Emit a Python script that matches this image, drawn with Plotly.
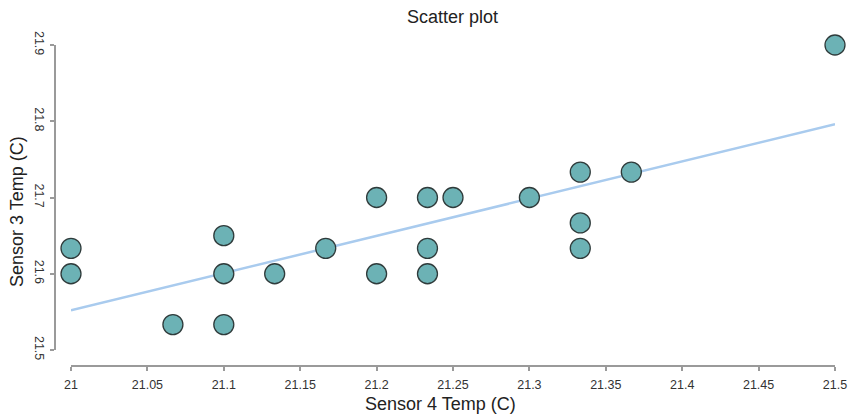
import numpy as np
import plotly.graph_objects as go

sensor4 = [21.0, 21.0, 21.0667, 21.1, 21.1, 21.1, 21.1333, 21.1667, 21.2, 21.2,
           21.2333, 21.2333, 21.2333, 21.25, 21.3, 21.3333, 21.3333, 21.3333, 21.3667, 21.5]
sensor3 = [21.6333, 21.6, 21.5333, 21.65, 21.6, 21.5333, 21.6, 21.6333, 21.7, 21.6,
           21.7, 21.6333, 21.6, 21.7, 21.7, 21.7333, 21.6667, 21.6333, 21.7333, 21.9]
x_ticks = [21, 21.05, 21.1, 21.15, 21.2, 21.25, 21.3, 21.35, 21.4, 21.45, 21.5]
x_tick_labels = ["21", "21.05", "21.1", "21.15", "21.2", "21.25", "21.3", "21.35", "21.4", "21.45", "21.5"]
y_ticks = [21.5, 21.6, 21.7, 21.8, 21.9]
y_tick_labels = ["21.5", "21.6", "21.7", "21.8", "21.9"]

xs = np.array(sensor4)
ys = np.array(sensor3)
slope, intercept = np.polyfit(xs, ys, 1)
fit_x = [xs.min(), xs.max()]
fit_y = [slope * v + intercept for v in fit_x]

W, H = 848, 417
ml, mr, mt, mb = 55, 13, 45, 51
pw = W - ml - mr
ph = H - mt - mb
xdom0 = 16 / pw
ydom0 = 16 / ph


def px_x(p):
    return (p - ml) / pw


def px_y(p):
    return (H - mb - p) / ph


fig = go.Figure()
fig.add_trace(go.Scatter(
    x=fit_x, y=fit_y, mode="lines",
    line=dict(color="#a9cbee", width=2.5),
    hoverinfo="skip", showlegend=False))
fig.add_trace(go.Scatter(
    x=sensor4, y=sensor3, mode="markers",
    marker=dict(size=20, color="#6cb2b5", line=dict(color="#2f3b3b", width=1.3)),
    cliponaxis=False, showlegend=False))

axis_font = dict(family="Liberation Sans, Arial, sans-serif", size=12.5, color="#333333")
title_font = dict(family="Liberation Sans, Arial, sans-serif", size=18, color="#222222")
fig.update_layout(
    width=W, height=H,
    margin=dict(l=ml, r=mr, t=mt, b=mb, autoexpand=False),
    paper_bgcolor="white", plot_bgcolor="white",
    font=dict(family="Liberation Sans, Arial, sans-serif", color="#222222"),
    title=dict(text="Scatter plot", x=(452.5) / W, xanchor="center", xref="container",
               y=1 - 17 / H, yanchor="middle", yref="container",
               font=title_font),
    xaxis=dict(
        domain=[xdom0, 1], range=[21, 21.5], anchor="free", position=0,
        tickmode="array", tickvals=x_ticks, ticktext=x_tick_labels,
        showgrid=False, zeroline=False, showline=True, linecolor="#9a9a9a", linewidth=1.5,
        ticks="outside", ticklen=4, tickcolor="#9a9a9a", tickwidth=1.5,
        ticklabelstandoff=3,
        tickfont=axis_font, automargin=False,
    ),
    yaxis=dict(
        domain=[ydom0, 1], range=[21.5, 21.9], anchor="free", position=0,
        tickmode="array", tickvals=y_ticks, ticktext=y_tick_labels,
        tickangle=90,
        showgrid=False, zeroline=False, showline=True, linecolor="#9a9a9a", linewidth=1.5,
        ticks="outside", ticklen=4, tickcolor="#9a9a9a", tickwidth=1.5,
        tickfont=axis_font, automargin=False,
    ),
    annotations=[
        dict(text="Sensor 4 Temp (C)", xref="paper", yref="paper",
             x=px_x(440), y=px_y(404), xanchor="center", yanchor="middle",
             showarrow=False, font=title_font),
        dict(text="Sensor 3 Temp (C)", xref="paper", yref="paper",
             x=px_x(17), y=px_y(212), xanchor="center", yanchor="middle",
             textangle=-90, showarrow=False, font=title_font),
    ],
)

fig.write_html("out.html", config={"displayModeBar": False},
               post_script="document.body.style.margin='0';document.body.style.overflow='hidden';")
